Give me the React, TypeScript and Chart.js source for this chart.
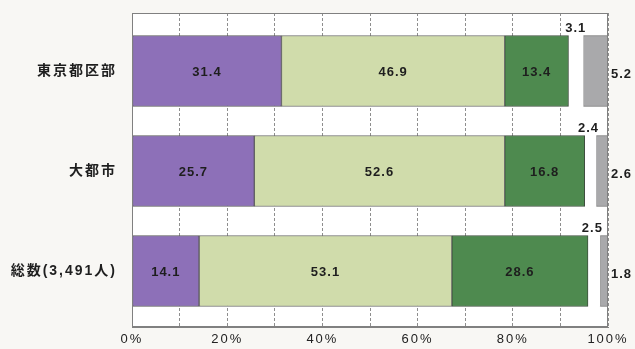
import React, { useEffect, useRef } from 'react';
import { Chart, registerables } from 'chart.js';

Chart.register(...registerables);

const categories = ['東京都区部', '大都市', '総数(3,491人)'];
const seriesA = [31.4, 25.7, 14.1];
const seriesB = [46.9, 52.6, 53.1];
const seriesC = [13.4, 16.8, 28.6];
const seriesD = [3.1, 2.4, 2.5];
const seriesE = [5.2, 2.6, 1.8];
const seriesNames = ['A', 'B', 'C', 'D', 'E'];
const labelTicks = [0, 20, 40, 60, 80, 100];

const colors = ['#8d70b8', '#d0dcab', '#4e8a4f', '#ffffff', '#a9a9ab'];
const borders = ['#5a5a5a', '#6a6a6a', '#3f4f3f', 'rgba(0,0,0,0)', '#6a6a6a'];
const FONT = '"Liberation Sans", "Noto Sans CJK JP", sans-serif';

const valueLabels = {
  id: 'valueLabels',
  afterDatasetsDraw(chart: any) {
    const ctx = chart.ctx;
    ctx.save();
    ctx.letterSpacing = '1px';
    ctx.fillStyle = '#1e1e1e';
    ctx.font = `bold 13px ${FONT}`;
    chart.data.datasets.forEach((ds: any, di: number) => {
      const meta = chart.getDatasetMeta(di);
      meta.data.forEach((el: any, i: number) => {
        const v = ds.data[i].x;
        const txt = v.toFixed(1);
        const p = el.getProps(['x', 'y', 'base', 'height'], true);
        if (di < 3) {
          ctx.textAlign = 'center';
          ctx.textBaseline = 'middle';
          ctx.fillText(txt, (p.x + p.base) / 2, p.y + 1);
        } else if (di === 3) {
          ctx.textAlign = 'right';
          ctx.textBaseline = 'bottom';
          ctx.fillText(txt, p.x + 3, p.y - p.height / 2 - 1);
        } else {
          ctx.textAlign = 'left';
          ctx.textBaseline = 'middle';
          ctx.fillText(txt, chart.chartArea.right + 3, p.y + 3);
        }
      });
    });
    ctx.restore();
  },
};

const frame = {
  id: 'frame',
  beforeDraw(chart: any) {
    const { ctx, chartArea: a } = chart;
    ctx.save();
    ctx.fillStyle = '#ffffff';
    ctx.fillRect(a.left, a.top, a.right - a.left, a.bottom - a.top);
    ctx.restore();
    ctx.letterSpacing = '2px';
  },
  afterDraw(chart: any) {
    const { ctx, chartArea: a } = chart;
    ctx.save();
    ctx.letterSpacing = '0px';
    ctx.strokeStyle = '#808080';
    ctx.lineWidth = 1;
    ctx.strokeRect(a.left + 0.5, a.top + 0.5, a.right - a.left - 1, a.bottom - a.top - 1);
    ctx.restore();
  },
};

export default function App() {
  const ref = useRef<HTMLCanvasElement>(null);
  useEffect(() => {
    const series = [seriesA, seriesB, seriesC, seriesD, seriesE];
    const chart = new Chart(ref.current!, {
      type: 'bar',
      data: {
        datasets: series.map((s, k) => ({
          label: seriesNames[k],
          data: s.map((v, i) => ({ x: v, y: i })),
          backgroundColor: colors[k],
          borderColor: borders[k],
          borderWidth: k === 3 ? 0 : 1,
          borderSkipped: false,
          barThickness: 71,
        })),
      },
      options: {
        indexAxis: 'y',
        responsive: false,
        animation: false,
        layout: { padding: { top: 13, right: 27, left: 0, bottom: 0 } },
        plugins: { legend: { display: false }, tooltip: { enabled: false } },
        scales: {
          x: {
            type: 'linear',
            min: 0,
            max: 100,
            stacked: true,
            offset: false,
            grid: { color: '#8e8e8e', lineWidth: 1, drawTicks: false, offset: false },
            border: { display: true, color: '#808080', dash: [3, 2] },
            afterFit: (s: any) => {
              s.height = 22;
            },
            ticks: {
              stepSize: 10,
              padding: 5,
              color: '#222',
              font: { family: FONT, size: 13 },
              callback: (v: any) => (labelTicks.includes(v) ? v + '%' : ''),
            },
          },
          y: {
            type: 'linear',
            reverse: true,
            min: -0.58,
            max: 2.56,
            bounds: 'data',
            grace: 0,
            offset: false,
            stacked: true,
            grid: {
              display: true,
              drawOnChartArea: false,
              drawTicks: true,
              tickLength: 15,
              tickColor: 'rgba(0,0,0,0)',
              color: 'rgba(0,0,0,0)',
              offset: false,
            },
            border: { display: true, color: '#808080' },
            afterBuildTicks: (s: any) => {
              s.ticks = categories.map((_, i) => ({ value: i }));
            },
            afterFit: (s: any) => {
              s.width = 132;
            },
            ticks: {
              padding: 0,
              color: '#1e1e1e',
              font: { family: FONT, size: 14, weight: 'bold' },
              callback: (v: any) => categories[v] ?? '',
            },
          },
        },
      },
      plugins: [frame, valueLabels],
    } as any);
    return () => chart.destroy();
  }, []);
  return (
    <div style={{ position: 'fixed', left: 0, top: 0, width: 635, height: 349, background: '#f8f7f4' }}>
      <canvas ref={ref} width={635} height={349} />
    </div>
  );
}
